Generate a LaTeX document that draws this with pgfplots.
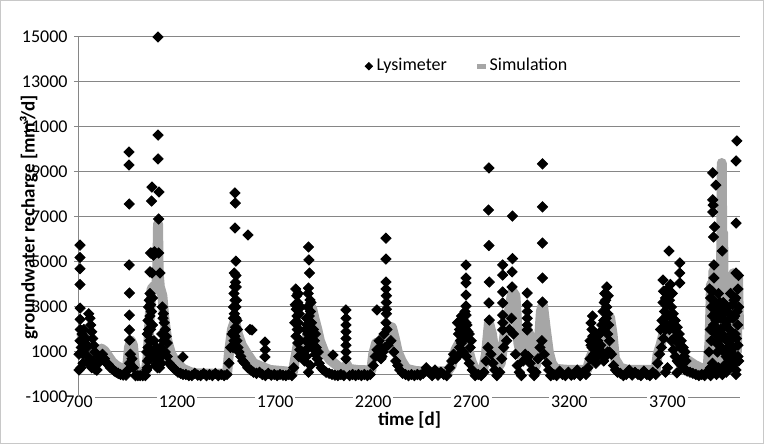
\documentclass[border=0pt]{standalone}
\usepackage{fontspec}
\setmainfont{Carlito}
\usepackage{pgfplots}
\pgfplotsset{compat=1.18}
\definecolor{gridgray}{RGB}{134,134,134}
\definecolor{simgray}{RGB}{166,166,166}
\definecolor{framegray}{RGB}{200,200,200}

\begin{document}
\begin{tikzpicture}[x=1pt,y=1pt]
\useasboundingbox (-39.5,-23.5) rectangle (342.5,198.5);
\draw[framegray, line width=0.6pt] (-39.1,-23.1) rectangle (342.1,198.1);
\begin{axis}[
    at={(0,0)}, anchor=south west,
    scale only axis, width=330.5pt, height=180pt,
    xmin=700, xmax=4070, ymin=-1000, ymax=15000,
    xtick={700,1200,...,3700},
    ytick={-1000,1000,...,15000},
    scaled y ticks=false, scaled x ticks=false,
    axis line style={draw=none},
    ymajorgrids, grid style={gridgray, line width=0.5pt},
    ytick pos=left, tick align=outside, major tick length=2.5pt,
    ytick style={gridgray, line width=0.5pt},
    xtick style={draw=none},
    /pgf/number format/set thousands separator={},
    /pgf/number format/assume math mode=true,
    tick label style={font=\fontsize{9}{10}\selectfont, text=black},
    xticklabel style={anchor=center, fill=white, inner sep=1pt},
    yticklabel style={inner sep=0pt, xshift=-3pt},
    xlabel={\textbf{time [d]}},
    ylabel={\textbf{groundwater recharge [mm³/d]}},
    label style={font=\fontsize{9.5}{11}\selectfont},
    xlabel style={at={(axis description cs:0.5,-0.064)}, anchor=center},
    ylabel style={at={(axis description cs:-0.076,0.5)}, anchor=center},
    legend style={at={(axis description cs:0.589,0.919)}, anchor=center,
        draw=none, fill=none, font=\fontsize{9}{10}\selectfont,
        legend columns=2, /tikz/every even column/.append style={column sep=13pt}},
    legend cell align=left,
    clip=false,
]
\draw[gridgray, line width=0.5pt] (rel axis cs:0,0) -- (rel axis cs:0,1);
\draw[gridgray, line width=0.7pt] (axis cs:700,0) -- (axis cs:4070,0);

\addlegendimage{only marks, mark=square*, mark size=1.3pt, mark options={rotate=45, fill=black, draw=black}}
\addlegendentry{Lysimeter}
\addlegendimage{legend image code/.code={\fill[simgray] (0.2cm,-1pt) rectangle (0.34cm,1pt);}}
\addlegendentry{Simulation}

% Simulation
\addplot[simgray, line width=5pt, line join=round, forget plot] coordinates {
(700,1900) (710,1850) (730,1800) (745,1700) (760,1200) (775,800) (790,750)
(800,1050) (815,1150) (830,1050) (850,800) (870,550) (890,400) (910,300)
(930,200) (945,250) (955,1200) (965,1500) (975,1300) (985,400) (995,100)
(1020,50) (1040,100) (1050,800) (1060,2500) (1070,3800) (1085,3950) (1095,3900)
(1100,5000) (1103,6700) (1106,4500) (1112,3900) (1125,3500) (1135,2500) (1150,1500)
(1170,900) (1200,500) (1230,250) (1270,100) (1300,50) (1400,30) (1455,50)
(1465,1000) (1480,2000) (1495,2400) (1510,1800) (1530,1300) (1555,950) (1590,500)
(1630,350) (1675,200) (1740,150) (1790,100) (1800,600) (1815,1300) (1840,1400)
(1860,1600) (1875,2300) (1888,2950) (1900,2500) (1915,2000) (1928,1500) (1950,1000)
(1980,650) (2030,300) (2060,250) (2065,450) (2075,250) (2120,200) (2190,180)
(2200,900) (2215,1400) (2250,1500) (2275,1800) (2295,2100) (2310,1600) (2325,1000)
(2345,600) (2370,250) (2420,150) (2500,120) (2580,150) (2600,400) (2620,1100)
(2645,1500) (2665,1400) (2685,1100) (2700,600) (2720,200) (2760,200) (2775,900)
(2790,2300) (2805,1800) (2820,900) (2835,300) (2850,500) (2870,1800) (2890,2700)
(2910,3700) (2925,3500) (2940,1400) (2955,800) (2970,1400) (2985,2000) (3000,1700)
(3015,900) (3030,400) (3045,1500) (3055,2800) (3065,3100) (3080,2000) (3095,1000)
(3110,500) (3130,250) (3200,200) (3290,200) (3305,700) (3320,1000) (3340,1050)
(3370,1100) (3395,1700) (3407,2550) (3420,1800) (3432,700) (3460,300) (3500,200)
(3640,200) (3650,900) (3665,1300) (3685,2000) (3702,3200) (3712,2500) (3725,1900)
(3745,1200) (3765,900) (3800,650) (3840,420) (3880,250) (3905,300) (3915,1500)
(3922,4000) (3928,800) (3934,4600) (3940,1200) (3946,3800) (3952,600) (3960,2000)
(3968,800) (3974,5000) (3977,9400) (3980,4500) (3984,6300) (3988,1500) (3994,600)
(4000,2500) (4006,900) (4012,3500) (4018,1000) (4024,4200) (4030,1200) (4036,4500)
(4042,900) (4048,3800) (4054,1000) (4060,4300) (4065,2000)
};

% Lysimeter
\addplot[only marks, mark=square*, mark size=1.8pt, mark options={rotate=45, fill=black, draw=black}, forget plot] coordinates {
(700,200) (705,1500) (712,1200) (720,900) (730,1400) (740,1200) (750,600) (758,400)
(765,300) (772,600) (780,250) (790,200) (798,500) (805,800) (812,700) (820,900)
(830,700) (840,500) (850,450) (860,300) (870,250) (880,150) (890,100) (900,50)
(912,0) (925,-30) (940,-30) (950,200) (958,500) (962,900) (970,700) (978,300)
(988,-50) (1000,-50) (1012,-50) (1025,-50) (1038,-50) (1048,300) (1055,1200) (1062,2000)
(1068,2800) (1075,2200) (1082,1500) (1090,800) (1095,500) (1100,300) (1108,700) (1115,1200)
(1122,1800) (1130,1500) (1140,1000) (1150,800) (1160,500) (1170,400) (1180,300) (1192,200)
(1205,100) (1218,50) (1230,0) (1245,0) (1260,-50) (1275,-50) (1290,50) (1305,-30)
(1320,-50) (1335,50) (1350,-50) (1365,0) (1380,-50) (1395,50) (1410,-50) (1425,0)
(1440,-50) (1455,0) (1465,500) (1472,1200) (1480,1800) (1488,2500) (1505,1500) (1515,1000)
(1525,800) (1535,600) (1545,500) (1560,300) (1575,200) (1590,100) (1605,50) (1620,100)
(1635,0) (1650,-50) (1665,50) (1680,-30) (1695,0) (1710,-50) (1725,0) (1740,-30)
(1755,-50) (1770,0) (1785,-50) (1795,300) (1840,1000) (1850,600) (1860,800) (1870,1200)
(1880,1600) (1895,1300) (1905,900) (1915,700) (1925,500) (1935,300) (1945,200) (1960,100)
(1975,50) (1990,0) (2005,-30) (2020,-50) (2035,0) (2050,-50) (2080,-50) (2095,0)
(2110,-50) (2125,0) (2140,-50) (2155,0) (2170,-50) (2185,0) (2200,400) (2210,800)
(2220,1100) (2230,900) (2240,700) (2250,1000) (2260,1200) (2275,1300) (2290,1500) (2305,1000)
(2315,600) (2325,400) (2335,200) (2350,50) (2365,0) (2380,-50) (2395,0) (2410,-50)
(2425,0) (2440,-30) (2455,50) (2470,300) (2485,100) (2500,-50) (2515,200) (2530,-30)
(2545,100) (2560,0) (2575,-50) (2590,300) (2600,600) (2610,900) (2620,700) (2630,800)
(2640,1200) (2650,1400) (2660,1000) (2675,800) (2690,500) (2705,200) (2720,-50) (2735,0)
(2750,-50) (2765,100) (2775,600) (2785,1200) (2800,900) (2810,500) (2820,200) (2830,-50)
(2845,100) (2855,700) (2865,1200) (2880,1500) (2895,2000) (2905,2500) (2915,1800) (2925,900)
(2935,400) (2945,100) (2955,-50) (2965,600) (2975,900) (2990,800) (3000,500) (3010,200)
(3020,-50) (3030,100) (3040,700) (3050,1200) (3060,1500) (3072,900) (3085,500) (3095,200)
(3105,-50) (3120,0) (3135,-50) (3150,150) (3165,0) (3180,-50) (3195,100) (3210,-30)
(3225,0) (3240,200) (3255,-50) (3270,100) (3285,0) (3295,300) (3305,700) (3315,1200)
(3325,900) (3335,500) (3345,800) (3355,1100) (3365,900) (3375,600) (3385,800) (3395,1000)
(3405,1500) (3415,900) (3425,400) (3435,200) (3445,100) (3460,50) (3475,-50) (3490,0)
(3505,200) (3520,-30) (3535,100) (3550,0) (3565,-50) (3580,150) (3595,0) (3610,-50)
(3625,100) (3640,0) (3650,500) (3660,900) (3670,1200) (3680,1600) (3690,2000) (3700,2600)
(3710,2000) (3720,1500) (3730,1100) (3740,800) (3750,600) (3760,500) (3770,400) (3780,300)
(3790,200) (3800,150) (3815,100) (3830,50) (3845,0) (3860,-50) (3875,0) (3890,-50)
(3900,100) (3910,50) (3920,300) (3930,500) (3940,200) (3950,0) (3960,300) (3970,100)
(3980,0) (3990,400) (4000,100) (4010,700) (4020,300) (4030,900) (4040,500) (4050,200)
(4060,800)
% event clusters
(705,5750) (705,5200) (705,4700) (705,4000) (706,2950) (706,2450) (706,2000) (715,1800)
(725,2000) (735,1600) (745,800) (720,500) (710,300) (700,900) (750,2700) (756,2500)
(760,2200) (765,1900) (770,1600) (775,1300) (780,1000) (792,200)
(955,9890) (955,9310) (956,7580) (956,4870) (957,3620) (957,2640) (957,1980) (958,1530)
(1045,1000) (1048,1800) (1052,2400) (1055,3000) (1058,3300) (1062,2600) (1066,3100) (1070,1500)
(1072,2200) (1065,5400) (1080,5300) (1085,5450) (1072,8330) (1070,7710) (1072,5400) (1072,4510)
(1062,4560) (1103,15000) (1103,10640) (1103,9580) (1108,8110) (1106,6910) (1106,5400) (1113,4510)
(1125,3000) (1130,2700) (1135,2300) (1140,2000) (1145,1700) (1150,1400) (1128,2500) (1080,800)
(1090,400) (1095,1200) (1100,600) (1105,1000) (1110,300) (1115,800) (1120,500) (1230,780)
(1050,600) (1055,2000) (1060,1500) (1065,2000) (1068,1000) (1058,700) (1052,1200) (1062,3600)
(1070,2800) (1075,3400) (1045,200)
(1495,8070) (1497,7620) (1495,6510) (1500,5040) (1492,4510) (1498,4100) (1502,3890) (1490,3600)
(1495,3300) (1500,3000) (1492,2700) (1505,2400) (1498,2100) (1488,1900) (1562,6200) (1572,2000)
(1582,1980) (1648,1440) (1650,1100) (1648,780)
(1485,1200) (1490,1500) (1495,1700) (1500,2500) (1503,3300) (1488,3000) (1493,3900) (1500,4400)
(1508,2000) (1510,1200)
(1805,3800) (1810,3500) (1815,3200) (1808,2900) (1812,2600) (1818,2300) (1822,2000) (1806,1700)
(1815,1400) (1825,1100) (1820,800) (1870,5670) (1872,5090) (1875,4510) (1870,3840) (1868,3600)
(1878,3310) (1865,3000) (1880,2800) (1860,2500) (1885,2300) (1855,2000) (1890,1800) (1900,1500)
(1910,1200) (1920,1000) (1880,400) (1870,100) (1995,870)
(1800,2300) (1803,3100) (1813,2000) (1817,3600) (1823,2700) (1828,1500) (1830,3000)
(1858,1500) (1862,2200) (1866,1800) (1874,2600) (1876,2000) (1883,3200) (1888,1200) (1895,2000)
(1905,1800)
(2061,2870) (2061,2500) (2061,2200) (2061,1900) (2061,1600) (2061,1300) (2061,1000) (2061,700)
(2219,2870) (2265,6060) (2265,5130) (2265,4110) (2265,3800) (2267,3500) (2267,3200) (2267,2900)
(2267,2700) (2230,1500) (2240,1200) (2245,800) (2255,1800) (2265,2300) (2270,2000)
(2673,4870) (2673,4290) (2673,4070) (2673,3530) (2673,3040) (2673,2640) (2673,2300) (2673,2000)
(2673,1670) (2630,2300) (2640,2000) (2650,2600) (2660,2400) (2690,1800) (2700,1500) (2650,1700)
(2645,1500) (2655,2200) (2665,2000) (2668,2800) (2678,2200) (2683,1900) (2695,1200) (2635,1800)
(2790,9180) (2788,7310) (2790,5730) (2792,4110) (2790,3180) (2792,2420)
(2860,4870) (2860,4420) (2860,3670) (2860,3180) (2860,2640) (2860,2300) (2860,1980)
(2910,7040) (2910,5150) (2908,4560) (2908,3890)
(2985,3620) (2985,3090) (2985,2800) (2985,2500) (2985,2200) (2985,1980)
(3063,9360) (3063,7450) (3063,5840) (3063,4290) (3063,3220)
(3391,3890) (3380,3600) (3385,3300) (3390,3000) (3395,2700) (3375,2400) (3400,2200) (3370,2000)
(3395,1800) (3310,2290) (3315,2000) (3320,1700) (3325,1400) (3330,1100) (3335,800) (3345,1500)
(3355,1800) (3360,1300)
(3305,1500) (3310,1300) (3318,2600) (3340,1800) (3350,1200) (3365,2200) (3372,2800) (3378,3200)
(3388,2500) (3398,3500) (3405,1000)
(3708,5490) (3677,4200) (3763,4960) (3763,4510) (3763,4070) (3680,3700) (3690,3400) (3695,3100)
(3685,2800) (3700,3800) (3705,3500) (3710,3300) (3720,3000) (3730,2700) (3740,2400) (3750,2100)
(3760,1800) (3770,1500) (3780,1200) (3790,1000) (3775,700) (3700,300) (3690,100) (3748,70)
(3665,2000) (3672,2400) (3678,3200) (3688,3700) (3698,2200) (3715,2600) (3725,2300) (3735,2000)
(3745,1700) (3755,1400) (3765,1200) (3785,800) (3795,600) (3715,4000) (3725,3600)
(4054,10380) (4050,9490) (3931,8960) (3947,8420) (3931,7760) (3933,7530) (3931,7220) (4050,6730)
(3940,6560) (3935,6110) (3980,5490) (3937,4870) (4050,4510) (3937,4290) (3915,3800) (3920,3400)
(3925,3000) (3930,2600) (3935,2200) (3945,1800) (3950,1400) (3955,1000) (3960,3600) (3965,2800)
(3970,2000) (3975,1200) (3985,3200) (3990,2400) (3995,1600) (4000,800) (4005,3000) (4015,2000)
(4020,1500) (4025,1000) (4035,2500) (4040,3300) (4045,1800) (4055,2800) (4060,3800) (4060,1300)
(4030,400) (4050,0) (3940,100) (3920,-50) (4062,4400)
(3912,1000) (3918,2000) (3924,1500) (3928,3700) (3936,3300) (3942,2700) (3948,2400) (3955,3000)
(3958,2000) (3962,1500) (3968,3200) (3972,2500) (3978,1800) (3982,2700) (3988,1000) (3993,3000)
(3998,2200) (4003,1500) (4008,2400) (4012,1200) (4018,2700) (4022,3600) (4028,1800) (4032,3100)
(4038,1200) (4043,2600) (4048,3400) (4052,1600) (4058,2200) (4063,3000) (4064,600)
};
\end{axis}
\end{tikzpicture}
\end{document}
